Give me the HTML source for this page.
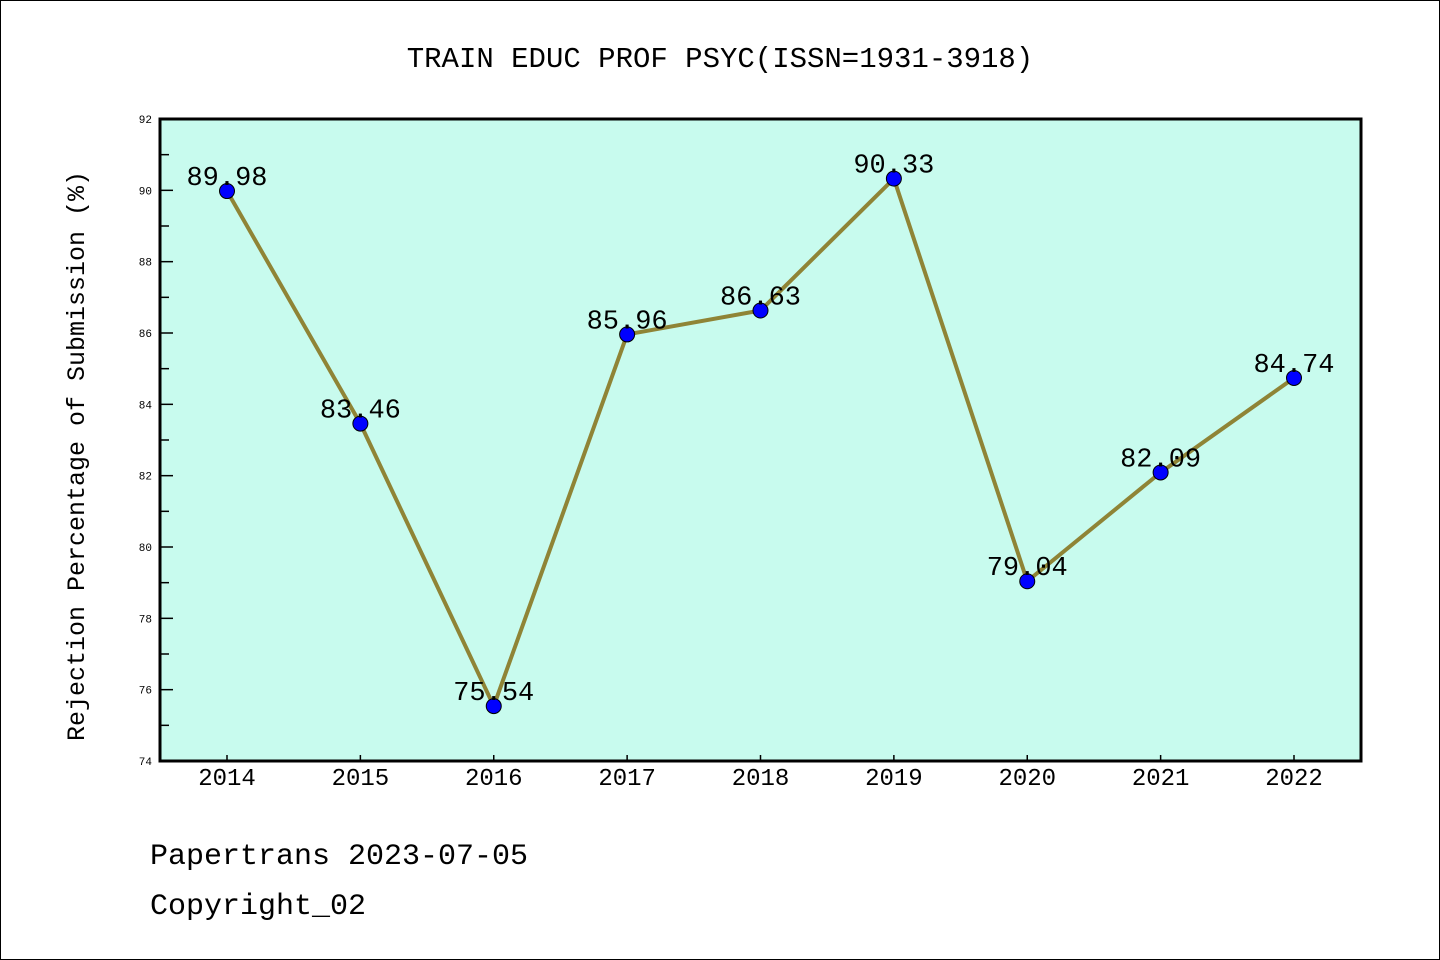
<!DOCTYPE html>
<html><head><meta charset="utf-8"><style>
html,body{margin:0;padding:0;background:#fff}
svg{display:block}
text{font-family:"Liberation Mono","DejaVu Sans Mono",monospace}
</style></head><body>
<svg id="chart" width="1440" height="960" xmlns="http://www.w3.org/2000/svg">
<rect x="0.5" y="0.5" width="1439" height="959" fill="#fff" stroke="#000" stroke-width="1"/>
<text x="720" y="67" font-size="29" text-anchor="middle">TRAIN EDUC PROF PSYC(ISSN=1931-3918)</text>
<rect x="160" y="119" width="1201" height="642" fill="#c8fbee"/>
<g id="ticks"></g>
<g id="series"></g>
<rect x="160" y="119" width="1201" height="642" fill="none" stroke="#000" stroke-width="3"/>
<text transform="translate(84,456) rotate(-90)" font-size="25" text-anchor="middle">Rejection Percentage of Submission (%)</text>
<text x="150" y="864" font-size="30">Papertrans 2023-07-05</text>
<text x="150" y="914" font-size="30">Copyright_02</text>
</svg>
<script>
const categories=["2014","2015","2016","2017","2018","2019","2020","2021","2022"];
const values=[89.98,83.46,75.54,85.96,86.63,90.33,79.04,82.09,84.74];
const yTicks=[74,76,78,80,82,84,86,88,90,92];
const NS="http://www.w3.org/2000/svg";
const x0=227,dx=(1294-227)/8,yMin=74,yMax=92,plotTop=119,plotBot=761;
const xs=i=>x0+i*dx;
const ys=v=>plotBot-(v-yMin)/(yMax-yMin)*(plotBot-plotTop);
function mk(t,a,p){const e=document.createElementNS(NS,t);for(const k in a)e.setAttribute(k,a[k]);p.appendChild(e);return e;}
const tg=document.getElementById('ticks'),sg=document.getElementById('series');
yTicks.forEach((v,i)=>{
 const y=ys(v);
 const l=mk('line',{x1:160,x2:173,y1:y,y2:y,stroke:'#000','stroke-width':1.5},tg);
 
 
 const t=mk('text',{x:152,y:y+4,'font-size':11,'text-anchor':'end'},tg);t.textContent=v;
 
 
 if(i<yTicks.length-1){const ym=ys(v+1);
  const m=mk('line',{x1:160,x2:169,y1:ym,y2:ym,stroke:'#000','stroke-width':1.5},tg);
  
  }
});
categories.forEach((c,i)=>{
 const x=xs(i);
 const l=mk('line',{x1:x,x2:x,y1:plotBot,y2:plotBot-6,stroke:'#000','stroke-width':1.5},tg);
 
 
 const t=mk('text',{x:x,y:785,'font-size':24,'text-anchor':'middle'},tg);t.textContent=c;
 
 
});
const pl=mk('polyline',{points:values.map((v,i)=>xs(i)+','+ys(v)).join(' '),fill:'none',stroke:'#8f8436','stroke-width':4},sg);


values.forEach((v,i)=>{
 const c=mk('circle',{cx:xs(i),cy:ys(v),r:7.5,fill:'#0000ff',stroke:'#000','stroke-width':1},sg);
 
 
 const t=mk('text',{x:xs(i),y:ys(v)-6,'font-size':27,'text-anchor':'middle'},sg);t.textContent=v.toFixed(2);
 
 
});
</script>
</body></html>
